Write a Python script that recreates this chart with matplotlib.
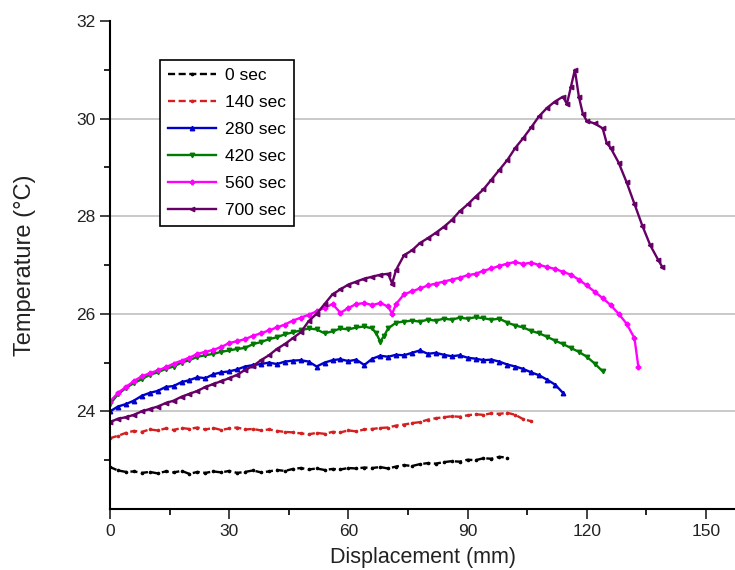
import numpy as np
import matplotlib.pyplot as plt

plt.rcParams['font.family'] = ['Liberation Sans', 'DejaVu Sans']

# 0 sec
x0 = [0, 2, 4, 6, 8, 10, 12, 14, 16, 18, 20, 22, 24, 26, 28, 30, 32, 34, 36, 38, 40,
      42, 44, 46, 48, 50, 52, 54, 56, 58, 60, 62, 64, 66, 68, 70, 72, 74, 76, 78, 80,
      82, 84, 86, 88, 90, 92, 94, 96, 98, 100]
t0 = [22.86, 22.79, 22.76, 22.77, 22.74, 22.76, 22.73, 22.77, 22.75, 22.78, 22.72,
      22.76, 22.74, 22.77, 22.75, 22.78, 22.74, 22.76, 22.79, 22.75, 22.77, 22.80,
      22.78, 22.82, 22.84, 22.81, 22.83, 22.80, 22.82, 22.81, 22.84, 22.83, 22.85,
      22.84, 22.86, 22.83, 22.87, 22.90, 22.88, 22.92, 22.94, 22.93, 22.96, 22.98,
      22.97, 23.01, 23.00, 23.04, 23.03, 23.07, 23.05]

# 140 sec
x140 = [0, 2, 4, 6, 8, 10, 12, 14, 16, 18, 20, 22, 24, 26, 28, 30, 32, 34, 36, 38, 40,
        42, 44, 46, 48, 50, 52, 54, 56, 58, 60, 62, 64, 66, 68, 70, 72, 74, 76, 78, 80,
        82, 84, 86, 88, 90, 92, 94, 96, 98, 100, 102, 104, 106]
t140 = [23.45, 23.50, 23.56, 23.60, 23.58, 23.63, 23.61, 23.65, 23.62, 23.66, 23.64,
        23.67, 23.63, 23.66, 23.62, 23.65, 23.67, 23.63, 23.64, 23.61, 23.63, 23.60,
        23.58, 23.57, 23.55, 23.53, 23.56, 23.54, 23.58, 23.57, 23.61, 23.59, 23.63,
        23.64, 23.66, 23.67, 23.71, 23.73, 23.76, 23.78, 23.83, 23.86, 23.88, 23.90,
        23.89, 23.92, 23.94, 23.93, 23.96, 23.95, 23.97, 23.93, 23.84, 23.80]

# 280 sec
x280 = [0, 2, 4, 6, 8, 10, 12, 14, 16, 18, 20, 22, 24, 26, 28, 30, 32, 34, 36, 38, 40,
        42, 44, 46, 48, 50, 52, 54, 56, 58, 60, 62, 64, 66, 68, 70, 72, 74, 76, 78, 80,
        82, 84, 86, 88, 90, 92, 94, 96, 98, 100, 102, 104, 106, 108, 110, 112, 114]
t280 = [24.00, 24.10, 24.15, 24.22, 24.32, 24.38, 24.42, 24.50, 24.52, 24.60, 24.64,
        24.70, 24.68, 24.76, 24.80, 24.82, 24.86, 24.92, 24.95, 24.97, 25.00, 24.97,
        25.02, 25.04, 25.05, 25.02, 24.92, 25.00, 25.05, 25.07, 25.03, 25.06, 24.95,
        25.08, 25.14, 25.12, 25.16, 25.15, 25.20, 25.25, 25.18, 25.20, 25.16, 25.13,
        25.15, 25.10, 25.08, 25.05, 25.06, 25.02, 24.96, 24.92, 24.87, 24.80, 24.74,
        24.65, 24.55, 24.38]

# 420 sec
x420 = [0, 2, 4, 6, 8, 10, 12, 14, 16, 18, 20, 22, 24, 26, 28, 30, 32, 34, 36, 38, 40,
        42, 44, 46, 48, 50, 52, 54, 56, 58, 60, 62, 64, 66, 67, 68, 69, 70, 72, 74, 76,
        78, 80, 82, 84, 86, 88, 90, 92, 94, 96, 98, 100, 102, 104, 106, 108, 110, 112,
        114, 116, 118, 120, 122, 124]
t420 = [24.15, 24.35, 24.48, 24.58, 24.66, 24.75, 24.80, 24.87, 24.92, 25.00, 25.05,
        25.12, 25.15, 25.18, 25.22, 25.25, 25.28, 25.30, 25.38, 25.42, 25.48, 25.52,
        25.58, 25.62, 25.66, 25.70, 25.68, 25.60, 25.64, 25.70, 25.68, 25.72, 25.74,
        25.70, 25.60, 25.43, 25.55, 25.70, 25.82, 25.84, 25.86, 25.84, 25.88, 25.86,
        25.90, 25.88, 25.92, 25.90, 25.93, 25.91, 25.88, 25.90, 25.82, 25.76, 25.72,
        25.65, 25.60, 25.53, 25.45, 25.38, 25.30, 25.22, 25.12, 24.98, 24.82]

# 560 sec
x560 = [0, 2, 4, 6, 8, 10, 12, 14, 16, 18, 20, 22, 24, 26, 28, 30, 32, 34, 36, 38, 40,
        42, 44, 46, 48, 50, 52, 54, 56, 58, 60, 62, 64, 66, 68, 70, 71, 72, 74, 76, 78,
        80, 82, 84, 86, 88, 90, 92, 94, 96, 98, 100, 102, 104, 106, 108, 110, 112, 114,
        116, 118, 120, 122, 124, 126, 128, 130, 132, 133]
t560 = [24.20, 24.38, 24.50, 24.62, 24.72, 24.78, 24.84, 24.90, 24.98, 25.04, 25.10,
        25.18, 25.22, 25.26, 25.32, 25.40, 25.44, 25.48, 25.55, 25.60, 25.66, 25.72,
        25.78, 25.86, 25.92, 25.98, 26.05, 26.12, 26.20, 26.02, 26.12, 26.20, 26.22,
        26.18, 26.22, 26.15, 26.00, 26.20, 26.40, 26.46, 26.52, 26.58, 26.62, 26.66,
        26.70, 26.74, 26.79, 26.82, 26.88, 26.93, 26.98, 27.03, 27.06, 27.02, 27.05,
        27.00, 26.96, 26.92, 26.86, 26.80, 26.70, 26.58, 26.45, 26.32, 26.18, 26.00,
        25.80, 25.50, 24.90]

# 700 sec
x700 = [0, 2, 4, 6, 8, 10, 12, 14, 16, 18, 20, 22, 24, 26, 28, 30, 32, 34, 36, 38, 40,
        42, 44, 46, 48, 50, 52, 54, 56, 58, 60, 62, 64, 66, 68, 70, 71, 72, 74, 76, 78,
        80, 82, 84, 86, 88, 90, 92, 94, 96, 98, 100, 102, 104, 106, 108, 110, 112, 114,
        115, 116, 117, 118, 119, 120, 122, 124, 125, 126, 128, 130, 132, 134, 136, 138,
        139]
t700 = [23.78, 23.85, 23.88, 23.93, 24.00, 24.05, 24.10, 24.17, 24.22, 24.30, 24.36,
        24.42, 24.50, 24.56, 24.62, 24.68, 24.75, 24.85, 24.93, 25.05, 25.15, 25.28,
        25.38, 25.50, 25.62, 25.85, 26.00, 26.20, 26.40, 26.50, 26.60, 26.66, 26.72,
        26.76, 26.80, 26.82, 26.62, 26.90, 27.20, 27.30, 27.45, 27.55, 27.66, 27.78,
        27.92, 28.10, 28.24, 28.40, 28.55, 28.75, 28.95, 29.15, 29.40, 29.60, 29.82,
        30.05, 30.22, 30.35, 30.45, 30.30, 30.65, 31.00, 30.45, 30.10, 29.95, 29.90,
        29.80, 29.50, 29.40, 29.10, 28.70, 28.25, 27.80, 27.40, 27.10, 26.96]

labels = ['0 sec', '140 sec', '280 sec', '420 sec', '560 sec', '700 sec']
colors = ['#000000', '#d42020', '#0000cc', '#007a00', '#ff00ff', '#660066']
markers = ['.', '.', '^', 'v', 'P', '<']
styles = [(0, (3, 1.5)), (0, (3, 1.5)), '-', '-', '-', '-']
xs = [x0, x140, x280, x420, x560, x700]
ts = [t0, t140, t280, t420, t560, t700]

fig = plt.figure(figsize=(7.35, 5.7), dpi=100)
ax = fig.add_axes([110 / 735, 61 / 570, 625 / 735, 488 / 570])

for x, t, c, m, ls, lab in zip(xs, ts, colors, markers, styles, labels):
    ax.plot(x, t, color=c, marker=m, markersize=3.2, linewidth=1.7, linestyle=ls,
            label=lab)

ax.set_xlim(0, 157.3)
ax.set_ylim(22, 32)
ax.set_xticks([0, 30, 60, 90, 120, 150])
ax.set_xticks([15, 45, 75, 105, 135], minor=True)
ax.set_yticks([24, 26, 28, 30, 32])
ax.set_yticks([23, 25, 27, 29, 31], minor=True)
ax.tick_params(which='major', length=7, width=1.2, labelsize=12.5, colors='#222222')
ax.tick_params(which='minor', length=4, width=1.2)
for y in [24, 26, 28, 30]:
    ax.axhline(y, color='#c0c0c0', linewidth=1.2, zorder=0)

ax.spines['top'].set_visible(False)
ax.spines['right'].set_visible(False)
ax.spines['left'].set_linewidth(1.5)
ax.spines['bottom'].set_linewidth(1.5)

ax.set_xlabel('Displacement (mm)', fontsize=15.5, color='#222222', labelpad=6)
ax.set_ylabel('Temperature (°C)', fontsize=17, color='#222222', labelpad=29)

leg = ax.legend(loc='upper left', bbox_to_anchor=(0.08, 0.92), fontsize=12.5,
                labelspacing=0.68, handlelength=2.8, handletextpad=0.5,
                fancybox=False, framealpha=1, edgecolor='black', borderpad=0.45,
                borderaxespad=0)
leg.get_frame().set_linewidth(1.2)

fig.savefig('out.png', dpi=100)
